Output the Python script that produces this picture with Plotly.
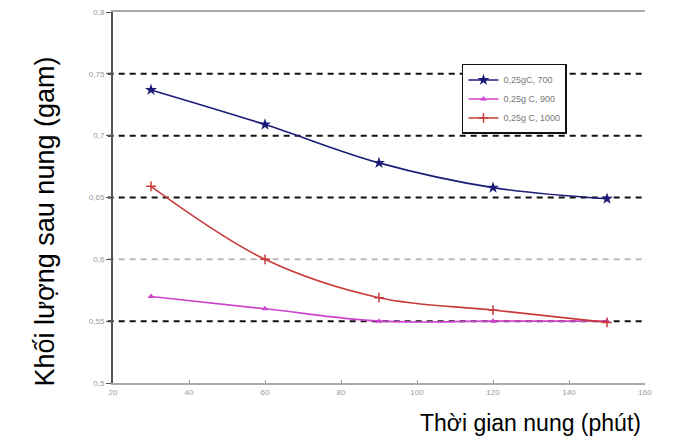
import plotly.graph_objects as go

time_min = [30, 60, 90, 120, 150]
series_names = ["0,25gC, 700", "0,25g C, 900", "0,25g C, 1000"]
mass_700 = [0.737, 0.709, 0.678, 0.658, 0.649]
mass_900 = [0.570, 0.560, 0.550, 0.550, 0.550]
mass_1000 = [0.659, 0.600, 0.569, 0.559, 0.549]
y_ticks = [0.5, 0.55, 0.6, 0.65, 0.7, 0.75, 0.8]
x_ticks = [20, 40, 60, 80, 100, 120, 140, 160]
dash_grid = [0.55, 0.65, 0.7, 0.75]
light_grid = [0.6]

fig = go.Figure()
fig.add_trace(go.Scatter(x=time_min, y=mass_700, name=series_names[0], mode="lines+markers",
                         line=dict(color="#1c1c78", width=1.6, shape="spline"),
                         marker=dict(symbol="star", size=9, color="#1c1c78")))
fig.add_trace(go.Scatter(x=time_min, y=mass_900, name=series_names[1], mode="lines+markers",
                         line=dict(color="#cc44cc", width=1.6, shape="spline"),
                         marker=dict(symbol="triangle-up", size=6, color="#cc44cc")))
fig.add_trace(go.Scatter(x=time_min, y=mass_1000, name=series_names[2], mode="lines+markers",
                         line=dict(color="#c83c3c", width=1.6, shape="spline"),
                         marker=dict(symbol="cross-thin-open", size=7, line=dict(color="#c83c3c", width=1.5))))

shapes = []
for v in dash_grid:
    shapes.append(dict(type="line", xref="paper", yref="y", x0=-0.01, x1=1, y0=v, y1=v,
                       line=dict(color="#111111", width=2, dash="6px,5px"), layer="below"))
for v in light_grid:
    shapes.append(dict(type="line", xref="paper", yref="y", x0=-0.01, x1=1, y0=v, y1=v,
                       line=dict(color="#bbbbbb", width=2, dash="6px,5px"), layer="below"))

fig.update_layout(
    width=679, height=442,
    margin=dict(l=113, r=34, t=8, b=59),
    paper_bgcolor="white", plot_bgcolor="white",
    separators=",.",
    shapes=shapes,
    showlegend=True,
    legend=dict(x=0.656, y=0.86, xanchor="left", yanchor="top",
                bordercolor="#111111", borderwidth=1.5, bgcolor="white",
                font=dict(size=9, color="#777777", family="Arial"),
                itemwidth=30, tracegroupgap=0),
    xaxis=dict(range=[20, 160], tickvals=x_ticks, showgrid=False, zeroline=False,
               showline=True, linecolor="#aaaaaa", linewidth=2, mirror=True,
               ticks="inside", ticklen=3, tickcolor="#999999",
               tickfont=dict(size=8, color="#999999", family="Arial")),
    yaxis=dict(range=[0.5, 0.8], tickvals=y_ticks, showgrid=False, zeroline=False,
               showline=True, linecolor="#555555", linewidth=2,
               ticks="outside", ticklen=5, tickcolor="#555555",
               tickfont=dict(size=8, color="#999999", family="Arial")),
    annotations=[
        dict(text="Thời gian nung (phút)", xref="paper", yref="paper", x=0.996, y=-0.067,
             xanchor="right", yanchor="top", showarrow=False,
             font=dict(size=23, color="black", family="Arial")),
        dict(text="Khối lượng sau nung (gam)", xref="paper", yref="paper", x=-0.128, y=0.435,
             xanchor="center", yanchor="middle", showarrow=False, textangle=-90,
             font=dict(size=27, color="black", family="Arial")),
    ],
)

fig.write_html("out.html")
